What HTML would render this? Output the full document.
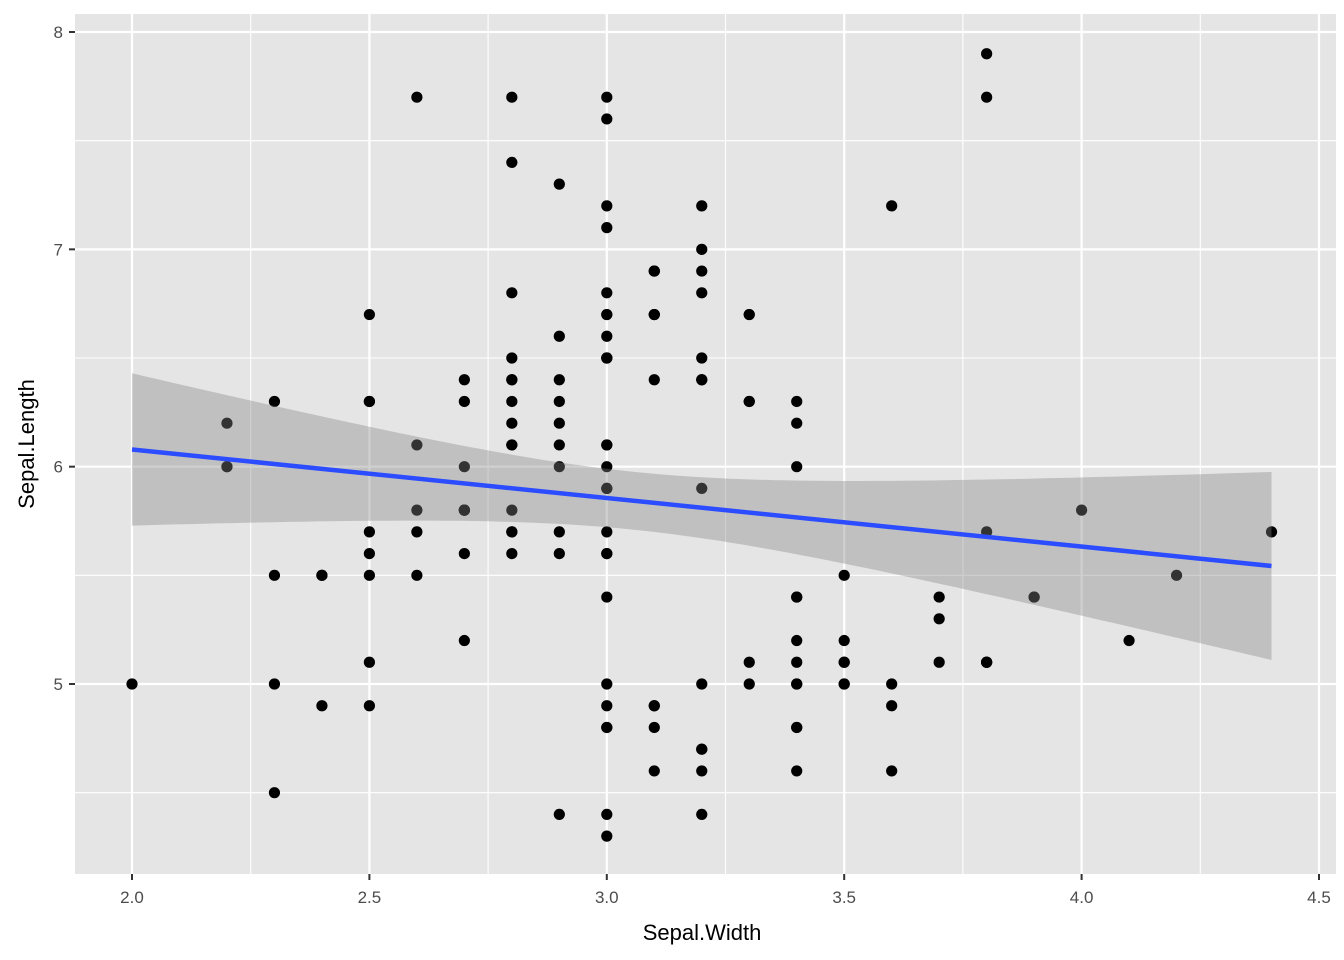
<!DOCTYPE html>
<html><head><meta charset="utf-8"><style>
html,body{margin:0;padding:0;background:#fff;}
svg{display:block;font-family:"Liberation Sans",Arial,sans-serif;}
</style></head><body>
<svg id="c" width="1344" height="960" viewBox="0 0 1344 960" xmlns="http://www.w3.org/2000/svg">
<rect x="75" y="14" width="1261" height="860" fill="#e5e5e5"/>
<g id="grid"></g>
<g id="pts"></g>
<g id="band"></g>
<g id="ticks"></g>
<text x="702" y="940" font-size="22" text-anchor="middle" fill="#000">Sepal.Width</text>
<text transform="translate(34,444) rotate(-90)" font-size="22" text-anchor="middle" fill="#000">Sepal.Length</text>
</svg>
<script>
var NS="http://www.w3.org/2000/svg";
function X(v){return 132+(v-2)*474.8;}
function Y(v){return 684-(v-5)*217.33;}
function el(p,t,a){var e=document.createElementNS(NS,t);for(var k in a)e.setAttribute(k,a[k]);p.appendChild(e);return e;}
var g=document.getElementById('grid'),tk=document.getElementById('ticks');
[2.25,2.75,3.25,3.75,4.25].forEach(function(v){el(g,'line',{x1:X(v),x2:X(v),y1:14,y2:874,stroke:'#fff','stroke-width':1.1});});
[4.5,5.5,6.5,7.5].forEach(function(v){el(g,'line',{x1:75,x2:1336,y1:Y(v),y2:Y(v),stroke:'#fff','stroke-width':1.1});});
[2,2.5,3,3.5,4,4.5].forEach(function(v){el(g,'line',{x1:X(v),x2:X(v),y1:14,y2:874,stroke:'#fff','stroke-width':2.2});
 el(tk,'line',{x1:X(v),x2:X(v),y1:874,y2:880,stroke:'#333','stroke-width':2});
 var t=el(tk,'text',{x:X(v),y:903,'font-size':17,'text-anchor':'middle',fill:'#4d4d4d'});t.textContent=v.toFixed(1);});
[5,6,7,8].forEach(function(v){el(g,'line',{x1:75,x2:1336,y1:Y(v),y2:Y(v),stroke:'#fff','stroke-width':2.2});
 el(tk,'line',{x1:69,x2:75,y1:Y(v),y2:Y(v),stroke:'#333','stroke-width':2});
 var t=el(tk,'text',{x:63,y:Y(v)+6,'font-size':17,'text-anchor':'end',fill:'#4d4d4d'});t.textContent=v;});
var d="5.1 3.5,4.9 3.0,4.7 3.2,4.6 3.1,5.0 3.6,5.4 3.9,4.6 3.4,5.0 3.4,4.4 2.9,4.9 3.1,5.4 3.7,4.8 3.4,4.8 3.0,4.3 3.0,5.8 4.0,5.7 4.4,5.4 3.9,5.1 3.5,5.7 3.8,5.1 3.8,5.4 3.4,5.1 3.7,4.6 3.6,5.1 3.3,4.8 3.4,5.0 3.0,5.0 3.4,5.2 3.5,5.2 3.4,4.7 3.2,4.8 3.1,5.4 3.4,5.2 4.1,5.5 4.2,4.9 3.1,5.0 3.2,5.5 3.5,4.9 3.6,4.4 3.0,5.1 3.4,5.0 3.5,4.5 2.3,4.4 3.2,5.0 3.5,5.1 3.8,4.8 3.0,5.1 3.8,4.6 3.2,5.3 3.7,5.0 3.3,7.0 3.2,6.4 3.2,6.9 3.1,5.5 2.3,6.5 2.8,5.7 2.8,6.3 3.3,4.9 2.4,6.6 2.9,5.2 2.7,5.0 2.0,5.9 3.0,6.0 2.2,6.1 2.9,5.6 2.9,6.7 3.1,5.6 3.0,5.8 2.7,6.2 2.2,5.6 2.5,5.9 3.2,6.1 2.8,6.3 2.5,6.1 2.8,6.4 2.9,6.6 3.0,6.8 2.8,6.7 3.0,6.0 2.9,5.7 2.6,5.5 2.4,5.5 2.4,5.8 2.7,6.0 2.7,5.4 3.0,6.0 3.4,6.7 3.1,6.3 2.3,5.6 3.0,5.5 2.5,5.5 2.6,6.1 3.0,5.8 2.6,5.0 2.3,5.6 2.7,5.7 3.0,5.7 2.9,6.2 2.9,5.1 2.5,5.7 2.8,6.3 3.3,5.8 2.7,7.1 3.0,6.3 2.9,6.5 3.0,7.6 3.0,4.9 2.5,7.3 2.9,6.7 2.5,7.2 3.6,6.5 3.2,6.4 2.7,6.8 3.0,5.7 2.5,5.8 2.8,6.4 3.2,6.5 3.0,7.7 3.8,7.7 2.6,6.0 2.2,6.9 3.2,5.6 2.8,7.7 2.8,6.3 2.7,6.7 3.3,7.2 3.2,6.2 2.8,6.1 3.0,6.4 2.8,7.2 3.0,7.4 2.8,7.9 3.8,6.4 2.8,6.3 2.8,6.1 2.6,7.7 3.0,6.3 3.4,6.4 3.1,6.0 3.0,6.9 3.1,6.7 3.1,6.9 3.1,5.8 2.7,6.8 3.2,6.7 3.3,6.7 3.0,6.3 2.5,6.5 3.0,6.2 3.4,5.9 3.0";
var P=document.getElementById('pts');
d.split(',').forEach(function(s){var a=s.split(' ');el(P,'circle',{cx:X(+a[1]),cy:Y(+a[0]),r:5.6,fill:'#000'});});
var B=document.getElementById('band'),up=[],lo=[];
for(var i=0;i<=80;i++){var x=2+2.4*i/80,p=6.526-0.2234*x,h=1.6304*Math.sqrt(0.006667+(x-3.0573)*(x-3.0573)/28.307);
 up.push(X(x).toFixed(1)+','+Y(p+h).toFixed(1));lo.unshift(X(x).toFixed(1)+','+Y(p-h).toFixed(1));}
el(B,'polygon',{points:up.concat(lo).join(' '),fill:'#858585','fill-opacity':0.384});
el(B,'line',{x1:X(2),y1:Y(6.526-0.4468),x2:X(4.4),y2:Y(6.526-0.2234*4.4),stroke:'#2c4cff','stroke-width':4.5});
</script>
</body></html>
